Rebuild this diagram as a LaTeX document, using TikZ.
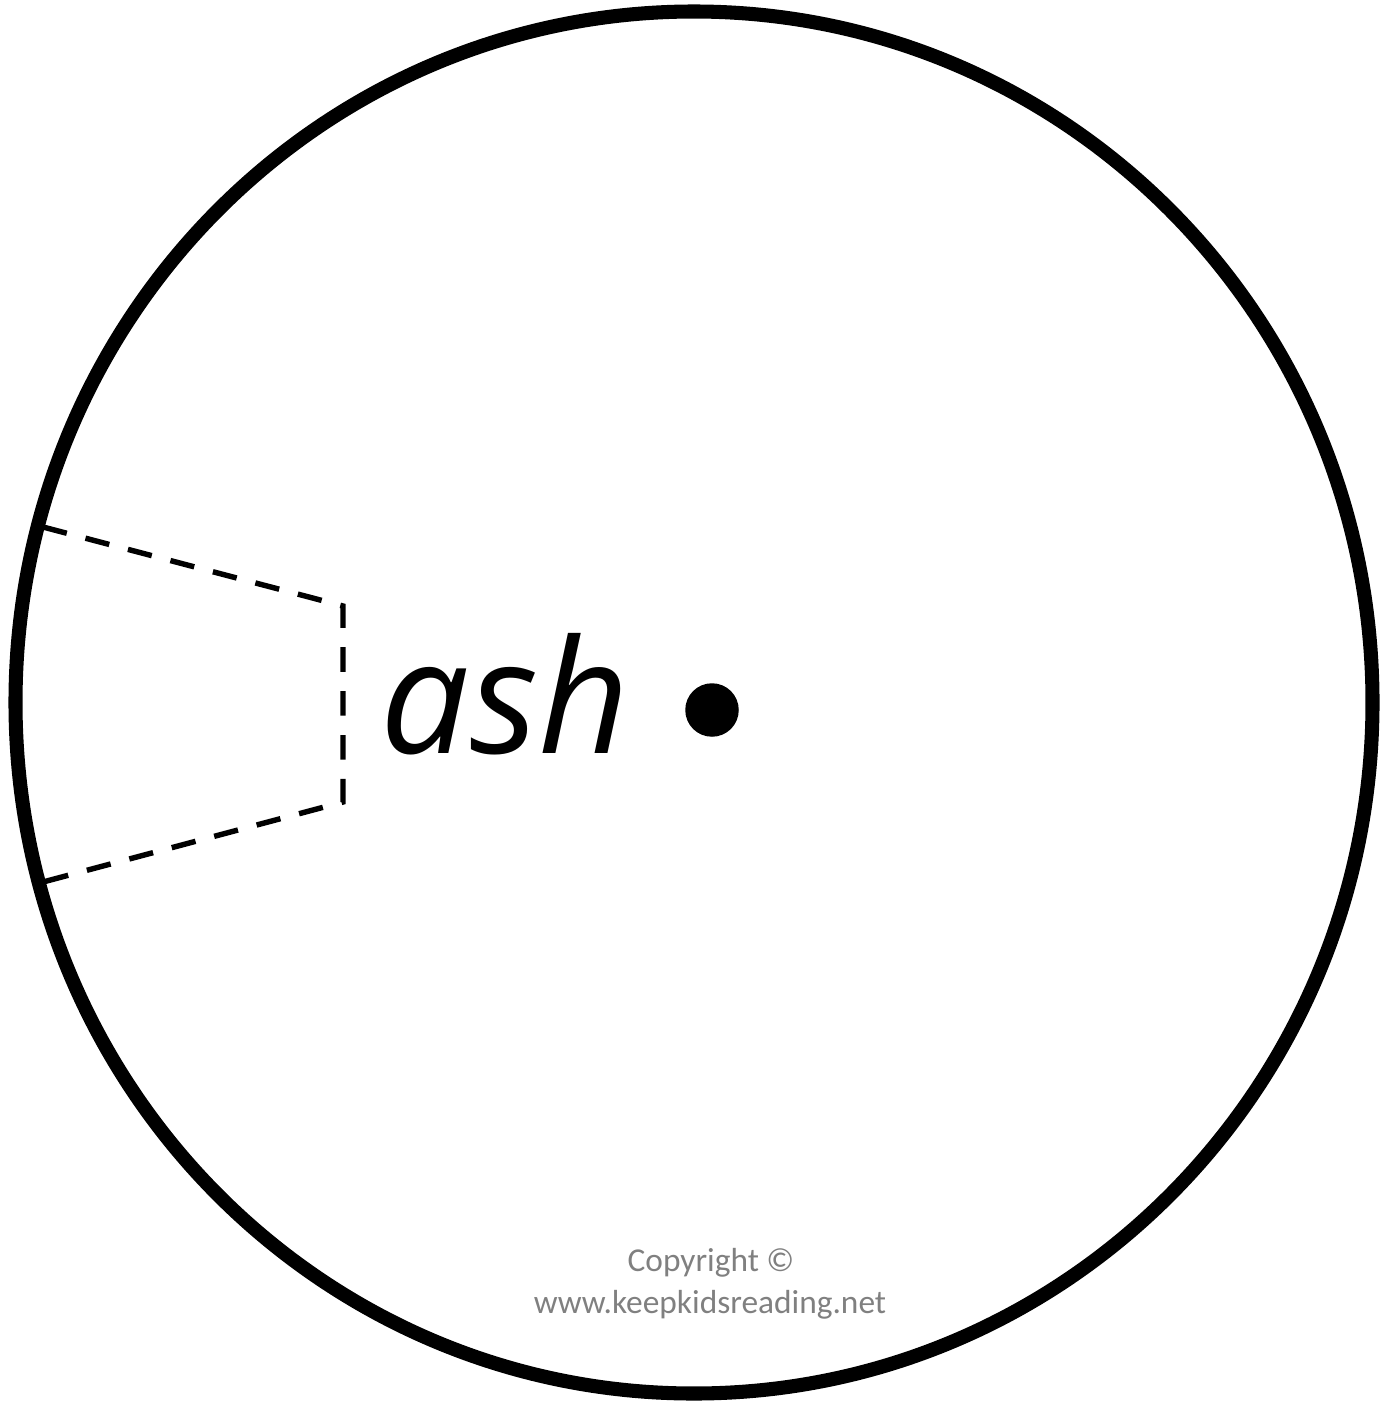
\documentclass[tikz,border=0pt]{standalone}
\usepackage{fontspec}
\setmainfont{Open Sans}
\newfontfamily\notefont{Carlito}
\begin{document}
\begin{tikzpicture}[
x=0.02cm, y=-0.02cm,
rim/.style={line width=8pt},
cutline/.style={line width=3.1pt, dash pattern=on 14pt off 11pt},
word/.style={inner sep=0pt, anchor=base, font=\itshape\fontsize{90}{100}\selectfont},
note/.style={inner sep=0pt, anchor=base, text=black!50, font=\notefont\fontsize{19}{23}\selectfont}
]
\useasboundingbox (0,0) rectangle (1399,1402);
% wheel
\draw[rim] (694,702.5) ellipse [x radius=678.5, y radius=691];
\node[circle, fill, inner sep=0pt, minimum size=1.07cm] (pin) at (712,710) {};
% cut-out window
\coordinate (w1) at (43,527);
\coordinate (w2) at (343,606);
\coordinate (w3) at (343,802);
\coordinate (w4) at (43,882);
\draw[cutline] (w1) -- (w2) -- (w3) -- (w4);
% texts
\node[word] (ash) at (505,753) {ash};
\node[note] (copy) at (711,1271) {Copyright ©};
\node[note] (site) at (710,1313) {www.keepkidsreading.net};
\end{tikzpicture}
\end{document}
